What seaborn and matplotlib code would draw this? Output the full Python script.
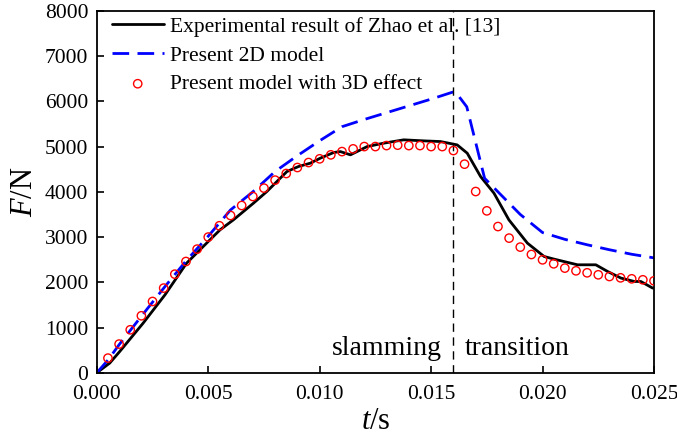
import pandas as pd
import matplotlib
matplotlib.use("Agg")
import matplotlib.pyplot as plt
import seaborn as sns

# experimental result (Zhao et al.)
exp_t = [0.0, 0.00058, 0.00103, 0.00208, 0.00306, 0.00403, 0.0050, 0.00553,
         0.00613, 0.00703, 0.00763, 0.00808, 0.00853, 0.00905, 0.00958,
         0.01003, 0.01063, 0.01093, 0.01138, 0.01213, 0.01287, 0.01377,
         0.01467, 0.01542, 0.01617, 0.01662, 0.01722, 0.01782, 0.01849,
         0.01932, 0.02007, 0.02052, 0.02157, 0.02239, 0.02292, 0.02352,
         0.02412, 0.02441, 0.02494]
exp_f = [0, 214, 471, 1098, 1724, 2424, 2902, 3160,
         3381, 3750, 4007, 4228, 4449, 4560, 4634,
         4745, 4870, 4890, 4818, 5001, 5076, 5150,
         5127, 5112, 5038, 4855, 4338, 3971, 3381,
         2866, 2571, 2512, 2387, 2387, 2239, 2093,
         2018, 2018, 1872]

# present 2D model
m2d_t = [0.0, 0.0005, 0.001, 0.002, 0.003, 0.004, 0.005, 0.006, 0.007,
         0.008, 0.009, 0.010, 0.011, 0.012, 0.013, 0.014, 0.015, 0.016,
         0.0162, 0.0166, 0.0174, 0.018, 0.019, 0.020, 0.021, 0.022, 0.023,
         0.024, 0.025]
m2d_f = [0, 280, 620, 1250, 1870, 2470, 3020, 3600, 4000,
         4450, 4800, 5130, 5440, 5600, 5750, 5900, 6050, 6210,
         6140, 5880, 4300, 4000, 3500, 3100, 2950, 2830, 2720,
         2620, 2540]

# present model with 3D effect
m3d_t = [0.0005, 0.001, 0.0015, 0.002, 0.0025, 0.003, 0.0035, 0.004, 0.0045,
         0.005, 0.0055, 0.006, 0.0065, 0.007, 0.0075, 0.008, 0.0085, 0.009,
         0.0095, 0.010, 0.0105, 0.011, 0.0115, 0.012, 0.0125, 0.013, 0.0135,
         0.014, 0.0145, 0.015, 0.0155, 0.016, 0.0165, 0.017, 0.0175, 0.018,
         0.0185, 0.019, 0.0195, 0.020, 0.0205, 0.021, 0.0215, 0.022, 0.0225,
         0.023, 0.0235, 0.024, 0.0245, 0.025]
m3d_f = [324, 634, 950, 1260, 1576, 1872, 2180, 2460, 2733,
         3000, 3250, 3477, 3698, 3897, 4082, 4259, 4405, 4538,
         4648, 4730, 4818, 4890, 4950, 5001, 5001, 5023, 5032,
         5023, 5023, 5001, 5001, 4913, 4612, 4007, 3580, 3233,
         2977, 2778, 2615, 2497, 2409, 2314, 2254, 2210, 2166,
         2128, 2099, 2077, 2055, 2033]

t_split = 0.016

sns.set_theme(style="white")
plt.rcParams["font.family"] = ["Liberation Serif", "DejaVu Serif"]
plt.rcParams["mathtext.fontset"] = "custom"
plt.rcParams["mathtext.rm"] = "Liberation Serif"
plt.rcParams["mathtext.it"] = "Liberation Serif:italic"
plt.rcParams["text.color"] = "black"
plt.rcParams["axes.labelcolor"] = "black"
plt.rcParams["xtick.color"] = "black"
plt.rcParams["ytick.color"] = "black"

exp_df = pd.DataFrame({"t": exp_t, "F": exp_f})
m2d_df = pd.DataFrame({"t": m2d_t, "F": m2d_f})
m3d_df = pd.DataFrame({"t": m3d_t, "F": m3d_f})

fig, ax = plt.subplots(figsize=(6.77, 4.37), dpi=100)
fig.subplots_adjust(left=0.143, right=0.966, top=0.975, bottom=0.147)

sns.lineplot(data=exp_df, x="t", y="F", ax=ax, color="black", lw=2,
             label="Experimental result of Zhao et al. [13]", sort=False)
sns.lineplot(data=m2d_df, x="t", y="F", ax=ax, color="#0000ff", lw=2,
             label="Present 2D model", sort=False)
ax.lines[-1].set_dashes([6, 3])
sns.scatterplot(data=m3d_df, x="t", y="F", ax=ax, marker="o", s=36,
                facecolor="none", edgecolor="red", linewidth=1,
                label="Present model with 3D effect", zorder=3)

ax.axvline(t_split, color="black", lw=1, ls=(0, (6, 4)))
ax.text(t_split - 0.0005, 250, "slamming", ha="right", va="bottom", fontsize=20)
ax.text(t_split + 0.0005, 250, "transition", ha="left", va="bottom", fontsize=20)

ax.set_xlim(0, 0.025)
ax.set_ylim(0, 8000)
ax.set_xticks([0.0, 0.005, 0.010, 0.015, 0.020, 0.025])
ax.set_xticklabels(["0.000", "0.005", "0.010", "0.015", "0.020", "0.025"])
ax.set_yticks(range(0, 8001, 1000))
ax.tick_params(direction="in", length=5, width=1.2, labelsize=15.5,
               bottom=True, left=True)
ax.tick_params(axis="x", pad=9)
ax.tick_params(axis="y", pad=6)
for sp in ax.spines.values():
    sp.set_linewidth(1.3)
    sp.set_color("black")

ax.set_xlabel("$t$/s", fontsize=22, labelpad=2)
ax.set_ylabel("$F$/N", fontsize=22, labelpad=4)

leg = ax.legend(loc="upper left", frameon=False, fontsize=15.5,
                handlelength=2.4, handletextpad=0.28, labelspacing=0.4,
                borderaxespad=0.3, bbox_to_anchor=(0.0, 1.025))

fig.savefig("out.png", dpi=100)
